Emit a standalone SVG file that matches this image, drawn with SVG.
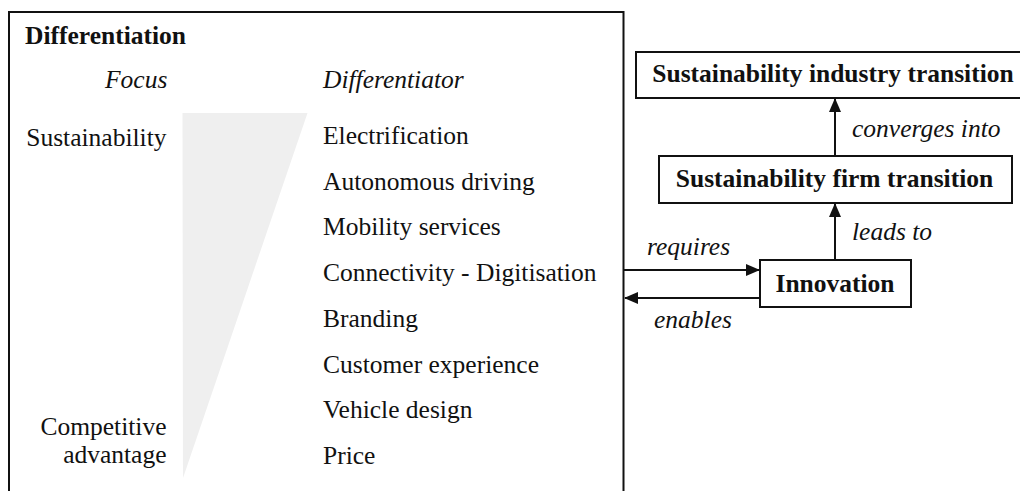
<svg xmlns="http://www.w3.org/2000/svg" width="1020" height="491" viewBox="0 0 1020 491">
  <style>
    text { font-family: 'Liberation Serif', Tinos, 'Times New Roman', 'DejaVu Serif', serif; font-size: 25.5px; fill: #111; }
    .b { font-weight: bold; }
    .i { font-style: italic; }
    .mid { text-anchor: middle; }
    .end { text-anchor: end; }
    .box { fill: #fff; stroke: #111; stroke-width: 2; }
    .edge { fill: none; stroke: #111; stroke-width: 2; }
  </style>
  <defs>
    <marker id="arrow" viewBox="0 0 14 12" refX="13" refY="6" markerWidth="14" markerHeight="12" markerUnits="userSpaceOnUse" orient="auto">
      <path d="M0,0 L14,6 L0,12 Z" fill="#111"/>
    </marker>
  </defs>
  <rect width="1020" height="491" fill="#fff"/>

  <!-- Differentiation panel -->
  <g id="differentiation">
    <rect x="9" y="12" width="614.5" height="500" class="box"/>
    <polygon points="182.5,113 307.5,113 183,478" fill="#efefef"/>
    <text x="25" y="44" class="b">Differentiation</text>
    <text x="105" y="88" class="i">Focus</text>
    <text x="323" y="88" class="i">Differentiator</text>
    <text x="166.5" y="146" class="end">Sustainability</text>
    <text x="166.5" y="435" class="end">Competitive</text>
    <text x="166.5" y="463" class="end">advantage</text>
    <text x="323" y="144">Electrification</text>
    <text x="323" y="189.7">Autonomous driving</text>
    <text x="323" y="235.4">Mobility services</text>
    <text x="323" y="281">Connectivity - Digitisation</text>
    <text x="323" y="326.8">Branding</text>
    <text x="323" y="372.5">Customer experience</text>
    <text x="323" y="418.2">Vehicle design</text>
    <text x="323" y="464">Price</text>
  </g>

  <!-- Transition chain -->
  <g id="industry-transition">
    <rect x="636" y="52" width="400" height="46" class="box"/>
    <text x="833" y="82" class="b mid">Sustainability industry transition</text>
  </g>
  <g id="firm-transition">
    <rect x="659" y="156" width="353" height="47" class="box"/>
    <text x="834.5" y="187" class="b mid">Sustainability firm transition</text>
  </g>
  <g id="innovation">
    <rect x="760" y="260" width="151" height="47" class="box"/>
    <text x="835" y="292" class="b mid">Innovation</text>
  </g>

  <!-- Connectors -->
  <g id="connectors">
    <line x1="835" y1="155" x2="835" y2="99" class="edge" marker-end="url(#arrow)"/>
    <line x1="835" y1="259" x2="835" y2="204" class="edge" marker-end="url(#arrow)"/>
    <line x1="624" y1="270" x2="759" y2="270" class="edge" marker-end="url(#arrow)"/>
    <line x1="759" y1="298" x2="625" y2="298" class="edge" marker-end="url(#arrow)"/>
    <text x="852" y="137" class="i">converges into</text>
    <text x="852" y="240" class="i">leads to</text>
    <text x="647" y="255" class="i">requires</text>
    <text x="654" y="328" class="i">enables</text>
  </g>
</svg>
